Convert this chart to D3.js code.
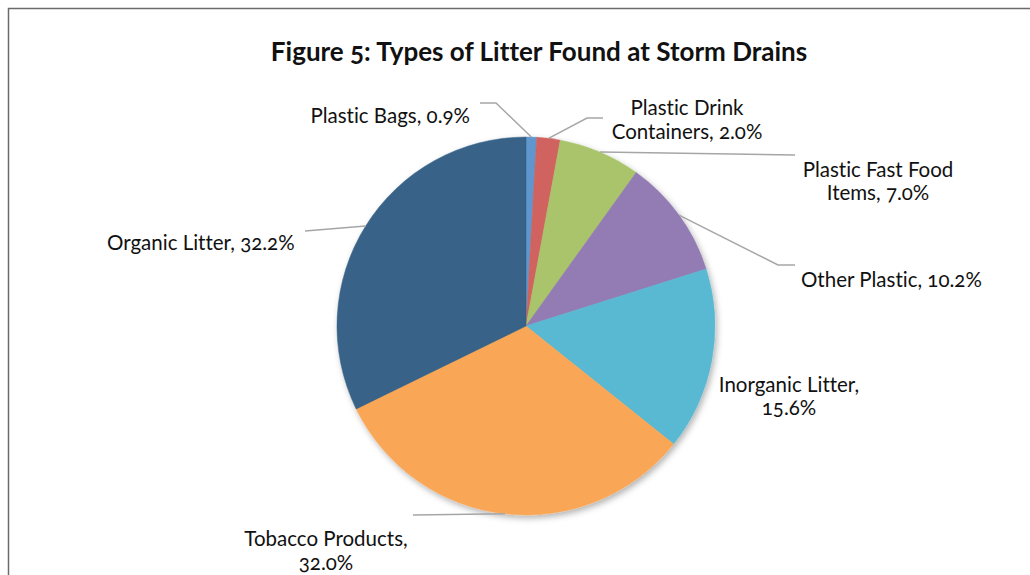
<!DOCTYPE html>
<html>
<head>
<meta charset="utf-8">
<script src="https://cdn.jsdelivr.net/npm/d3@7"></script>
<style>
  html, body { margin: 0; padding: 0; background: #fff; }
  svg { display: block; }
  text {
    font-family: Lato, "Open Sans", sans-serif;
    fill: #111;
    font-variant-ligatures: none;
    font-feature-settings: "onum" 1, "liga" 0;
  }
</style>
</head>
<body>
<svg id="chart" width="1030" height="575"></svg>
<script>
// Litter composition at storm drains (percent of items)
const categories = [
  "Plastic Bags",
  "Plastic Drink Containers",
  "Plastic Fast Food Items",
  "Other Plastic",
  "Inorganic Litter",
  "Tobacco Products",
  "Organic Litter"
];
const values = [0.9, 2.0, 7.0, 10.2, 15.6, 32.0, 32.2];
const colors = ["#5f96cd", "#d0625e", "#a9c46b", "#937bb3", "#5ab9d2", "#f9a756", "#376287"];

// Label text lines per slice
const labelLines = [
  ["Plastic Bags, 0.9%"],
  ["Plastic Drink", "Containers, 2.0%"],
  ["Plastic Fast Food", "Items, 7.0%"],
  ["Other Plastic, 10.2%"],
  ["Inorganic Litter,", "15.6%"],
  ["Tobacco Products,", "32.0%"],
  ["Organic Litter, 32.2%"]
];

// Label placement: anchor point, text anchor, line baselines, leader elbow/end
const labelLayout = [
  { x: 470, ys: [123], anchor: "end", leader: [[496, 103], [480, 103]] },
  { x: 687, ys: [115, 139], anchor: "middle", leader: [[587, 118], [603, 118]] },
  { x: 878, ys: [177, 200], anchor: "middle", leader: [[795, 155]] },
  { x: 801, ys: [287], anchor: "start", leader: [[778, 265], [795, 265]] },
  { x: 789, ys: [392, 415], anchor: "middle", leader: null },
  { x: 326, ys: [546, 570], anchor: "middle", leader: [[413, 515]] },
  { x: 107, ys: [250], anchor: "start", leader: [[305, 231]] }
];

const svg = d3.select("#chart");
const cx = 526, cy = 326, r = 189;

// Outer frame
svg.append("rect")
  .attr("x", 8.5).attr("y", 8.5)
  .attr("width", 1100).attr("height", 700)
  .attr("fill", "none")
  .attr("stroke", "#6b6b6b")
  .attr("stroke-width", 1.5);

// Title
svg.append("text")
  .attr("x", 539).attr("y", 61)
  .attr("text-anchor", "middle")
  .style("font-weight", "bold")
  .style("font-size", "26px")
  .text("Figure 5: Types of Litter Found at Storm Drains");

// Soft shadow under the pie
const defs = svg.append("defs");
const f = defs.append("filter").attr("id", "shadow")
  .attr("x", "-10%").attr("y", "-10%").attr("width", "120%").attr("height", "120%");
f.append("feDropShadow")
  .attr("dx", 2).attr("dy", 3)
  .attr("stdDeviation", 3)
  .attr("flood-color", "#000")
  .attr("flood-opacity", 0.3);

const pie = d3.pie().sort(null).value(d => d);
const arcs = pie(values);
const arc = d3.arc().innerRadius(0).outerRadius(r);

const g = svg.append("g").attr("transform", `translate(${cx},${cy})`);
g.append("g").attr("filter", "url(#shadow)")
  .selectAll("path")
  .data(arcs)
  .join("path")
  .attr("d", arc)
  .attr("fill", (d, i) => colors[i])
  .attr("stroke", (d, i) => colors[i])
  .attr("stroke-width", 0.5);

// Leader lines: start on the slice edge at the middle angle
const line = d3.line();
arcs.forEach((d, i) => {
  const L = labelLayout[i];
  if (!L.leader) return;
  const a = (d.startAngle + d.endAngle) / 2;
  const start = [cx + Math.sin(a) * r, cy - Math.cos(a) * r];
  svg.append("path")
    .attr("d", line([start, ...L.leader]))
    .attr("fill", "none")
    .attr("stroke", "#a6a6a6")
    .attr("stroke-width", 1.5);
});

// Labels
labelLayout.forEach((L, i) => {
  const t = svg.append("text")
    .attr("text-anchor", L.anchor)
    .style("font-size", "20.5px");
  labelLines[i].forEach((s, j) => {
    t.append("tspan").attr("x", L.x).attr("y", L.ys[j]).text(s);
  });
});
</script>
</body>
</html>
